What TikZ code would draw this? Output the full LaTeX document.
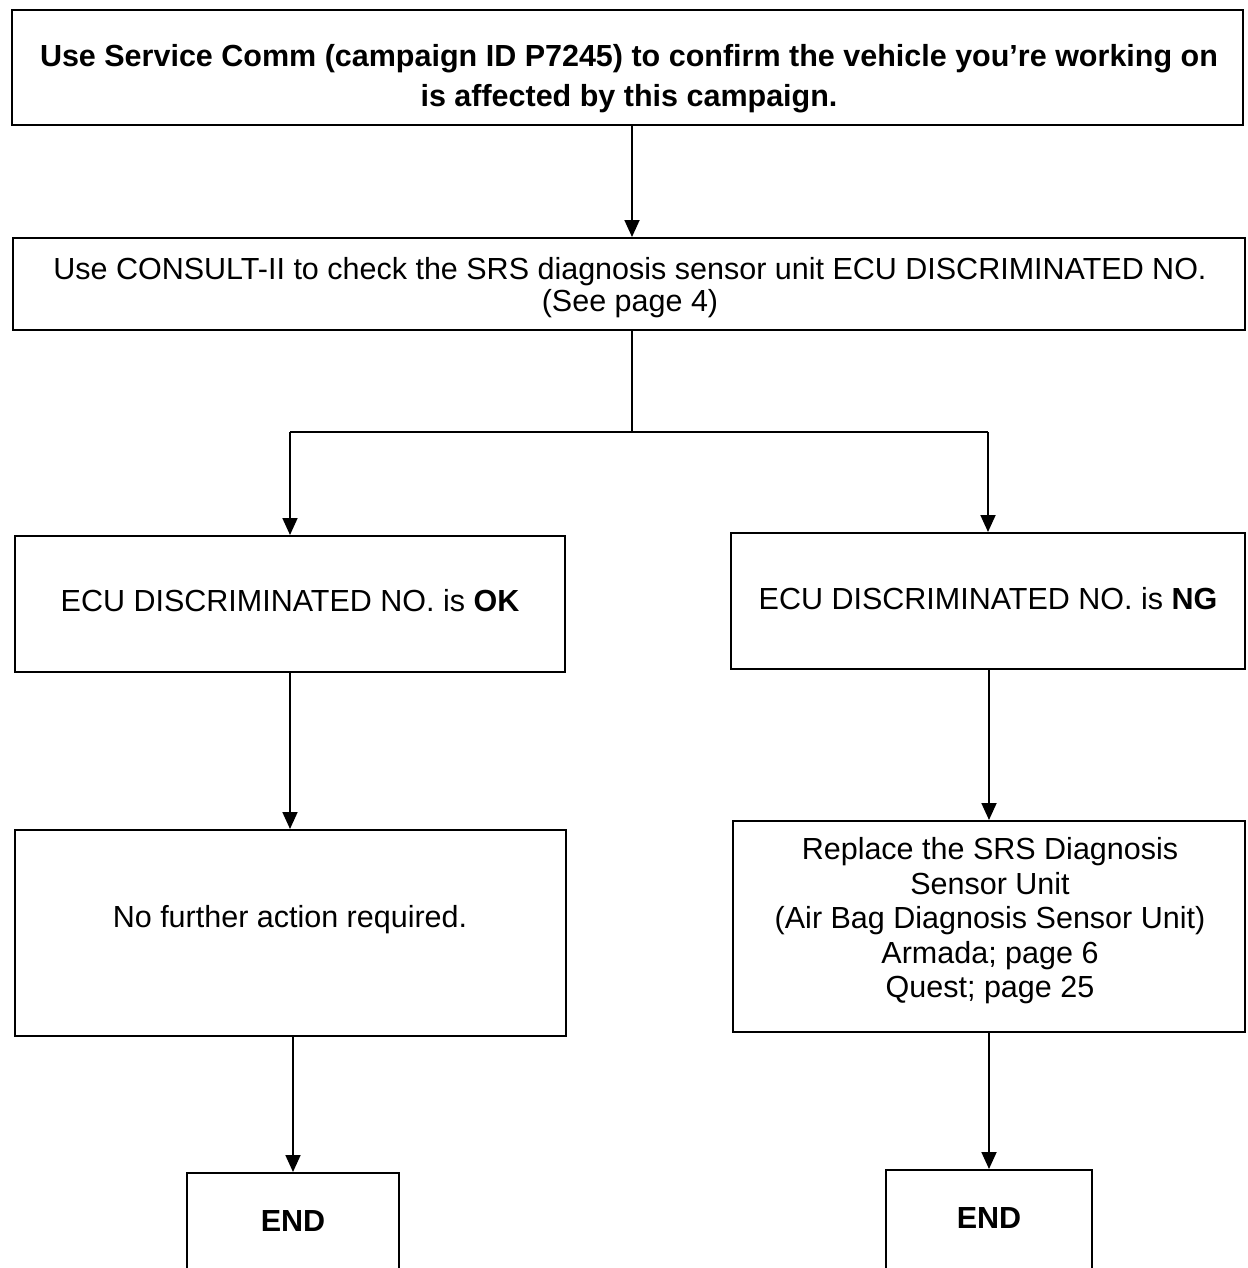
\documentclass[tikz,border=0pt]{standalone}
\usepackage{fontspec}
\setmainfont{Liberation Sans}
\usetikzlibrary{arrows.meta}
\begin{document}
\begin{tikzpicture}[x=1pt,y=-1pt,
  box/.style={draw=black,line width=2pt,fill=white,inner sep=0pt,minimum width=#1},
  txt/.style={align=center,inner sep=0pt,font=\fontsize{30.5}{34.5}\selectfont},
  btxt/.style={txt,font=\fontsize{30.5}{40}\selectfont\bfseries},
  conn/.style={line width=1.8pt},
  arr/.style={conn,-{Triangle[width=15pt,length=17pt]}}]
\useasboundingbox (0,0) rectangle (1247,1268);
\clip (0,0) rectangle (1247,1268);
% boxes
\node[box=1231pt,minimum height=115pt] (b1) at (627.5,67.5) {};
\node[box=1232pt,minimum height=92pt] (b2) at (629,284) {};
\node[box=550pt,minimum height=136pt] (ok) at (290,604) {};
\node[box=514pt,minimum height=136pt] (ng) at (988,601) {};
\node[box=551pt,minimum height=206pt] (nf) at (290.5,933) {};
\node[box=512pt,minimum height=211pt] (rp) at (989,926.5) {};
\node[box=212pt,minimum height=130pt] (e1) at (293,1238) {};
\node[box=206pt,minimum height=130pt] (e2) at (989,1235) {};
% texts
\node[btxt] (t1) at (629,79) {Use Service Comm (campaign ID P7245) to confirm the vehicle you’re working on\\is affected by this campaign.};
\node[txt,font=\fontsize{30.5}{32}\selectfont] (t2) at (630,288) {Use CONSULT-II to check the SRS diagnosis sensor unit ECU DISCRIMINATED NO.\\(See page 4)};
\node[txt] (tok) at (290,601) {ECU DISCRIMINATED NO. is \textbf{OK}};
\node[txt] (tng) at (988,599) {ECU DISCRIMINATED NO. is \textbf{NG}};
\node[txt] (tnf) at (290,920) {No further action required.};
\node[txt] (trp) at (990,921) {Replace the SRS Diagnosis\\Sensor Unit\\(Air Bag Diagnosis Sensor Unit)\\Armada; page 6\\Quest; page 25};
\node[txt,font=\fontsize{30.5}{34.5}\selectfont\bfseries] (te1) at (293,1221) {END};
\node[txt,font=\fontsize{30.5}{34.5}\selectfont\bfseries] (te2) at (989,1218) {END};
% connectors
\coordinate (sx) at (632,0);
\coordinate (split) at (632,432);
\draw[arr] (b1.south -| sx) -- (b2.north -| sx);
\draw[conn] (b2.south -| sx) -- (split);
\draw[conn] (split -| ok.north) -- (split -| ng.north);
\draw[arr] (split -| ok.north) -- (ok.north);
\draw[arr] (split -| ng.north) -- (ng.north);
\draw[arr] (ok.south) -- (nf.north -| ok.south);
\draw[arr] (ng.south -| rp.north) -- (rp.north);
\draw[arr] (nf.south -| e1.north) -- (e1.north);
\draw[arr] (rp.south -| e2.north) -- (e2.north);
\end{tikzpicture}
\end{document}
